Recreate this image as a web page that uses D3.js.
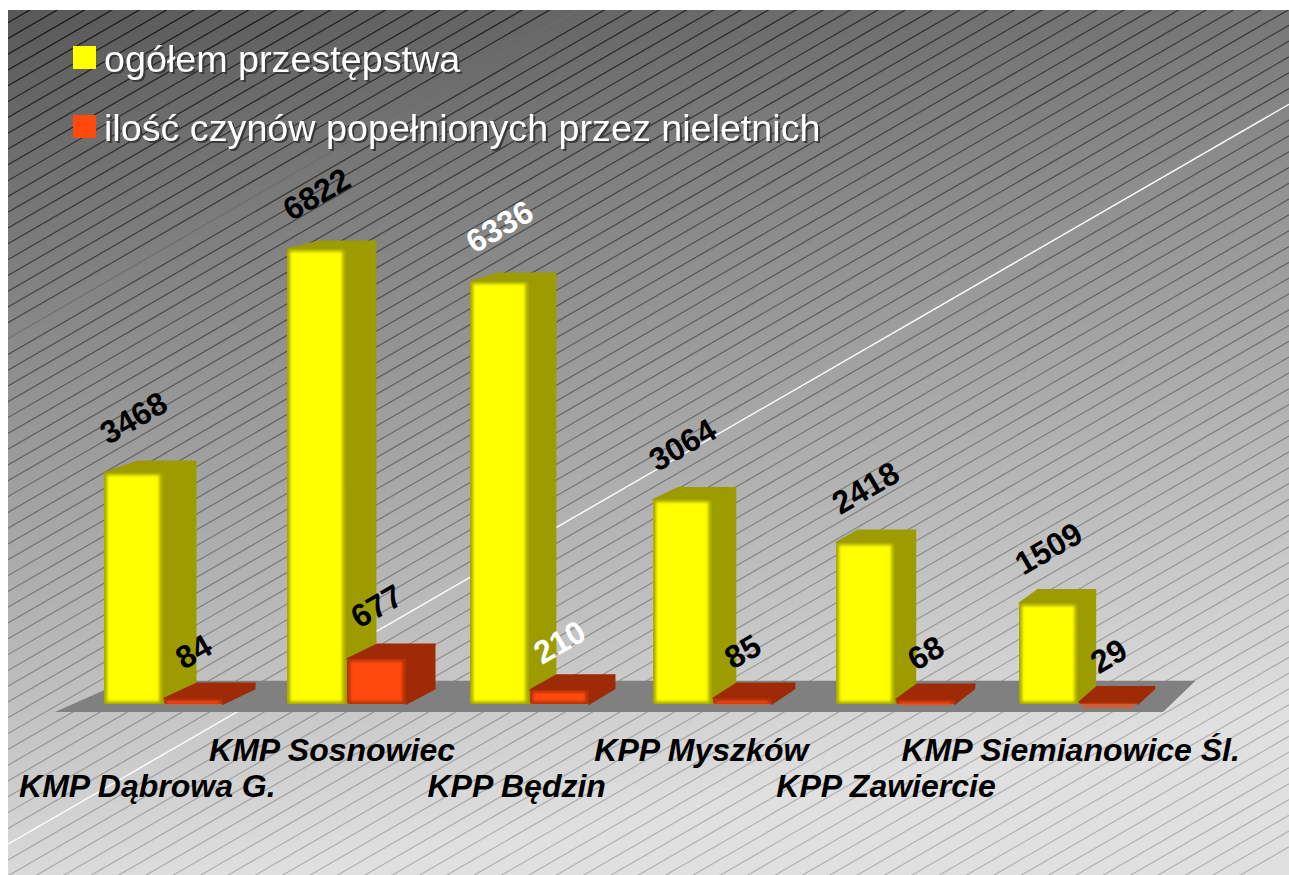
<!DOCTYPE html>
<html>
<head>
<meta charset="utf-8">
<script src="https://cdnjs.cloudflare.com/ajax/libs/d3/7.8.5/d3.min.js"></script>
<style>
body { margin: 0; background: #fff; }
svg { display: block; }
text { font-family: "Liberation Sans", Arial, sans-serif; }
</style>
</head>
<body>
<script>
// crime counts per police unit, pseudo 3d bars

let categories = ['KMP Dąbrowa G.', 'KMP Sosnowiec', 'KPP Będzin', 'KPP Myszków', 'KPP Zawiercie', 'KMP Siemianowice Śl.'];
let seriesNames = ['ogółem przestępstwa', 'ilość czynów popełnionych przez nieletnich'];
let totalCrimes = [3468, 6822, 6336, 3064, 2418, 1509];
let juvenileActs = [84, 677, 210, 85, 68, 29];

let w = 1289;
let h = 875;
let plot = { left: 8, top: 10 };
let whiteLabels = [6336, 210];

let svg = d3.select('body').append('svg').attr('width', w).attr('height', h);
let defs = svg.append('defs');

function linGrad(id, x1, y1, x2, y2, from, to) {
    let g = defs.append('linearGradient').attr('id', id)
        .attr('gradientUnits', 'userSpaceOnUse')
        .attr('x1', x1).attr('y1', y1).attr('x2', x2).attr('y2', y2);
    g.append('stop').attr('offset', 0).attr('stop-color', from);
    g.append('stop').attr('offset', 1).attr('stop-color', to);
}

linGrad('bg', 8, 10, 151, 896, '#585858', '#e0e0e0');
linGrad('stripe', 8, 10, 151, 896, '#111111', '#b2b2b2');
defs.append('filter').attr('id', 'soft').attr('x', '-20%').attr('y', '-20%').attr('width', '140%').attr('height', '140%')
    .append('feGaussianBlur').attr('stdDeviation', 1.5);
defs.append('clipPath').attr('id', 'plot-clip').append('rect')
    .attr('x', plot.left).attr('y', plot.top).attr('width', w - plot.left).attr('height', h - plot.top);

// background
let bg = svg.append('g').attr('clip-path', 'url(#plot-clip)');
bg.append('rect').attr('x', plot.left).attr('y', plot.top)
    .attr('width', w - plot.left).attr('height', h - plot.top).attr('fill', 'url(#bg)');

let slope = 0.5776;
let stripeStep = 15.8;
let stripeStart = 654.6;
let whiteStripe = 12;
let faintStripe = -20;
bg.selectAll('line.stripe')
    .data(d3.range(-42, 60))
    .enter()
    .append('line')
    .attr('class', 'stripe')
    .attr('x1', plot.left)
    .attr('y1', d => stripeStart + d * stripeStep)
    .attr('x2', w)
    .attr('y2', d => stripeStart + d * stripeStep - (w - plot.left) * slope)
    .attr('stroke', d => d == whiteStripe ? '#fff' : d == faintStripe ? '#6e6e6e' : 'url(#stripe)')
    .attr('stroke-width', d => d == whiteStripe ? 1.4 : 1.2);

// scales
let baseline = 704;
let y = d3.scaleLinear().domain([0, 6822]).range([baseline, 249]);
let x0 = d3.scaleBand().domain(categories).range([104, 1138]).paddingInner(0.35);
let x1 = d3.scaleBand().domain(seriesNames).range([0, x0.bandwidth()]).paddingInner(0.02);
let labelX = d3.scaleBand().domain(categories).range([55, 1163]);

// vanishing point of the fake perspective
let vp = [2120, -205];
let depth = 0.0168;
function project(px, py, k) {
    return [px + k * (vp[0] - px), py + k * (vp[1] - py)];
}
let poly = pts => pts.map(p => p.join(',')).join(' ');

// floor
let floorY = 712;
let floorK = 0.034;
svg.append('polygon')
    .attr('points', poly([
        [labelX.range()[0], floorY],
        [labelX.range()[1], floorY],
        project(labelX.range()[1], floorY, floorK),
        project(labelX.range()[0], floorY, floorK)
    ]))
    .attr('fill', '#808080');

let palette = [
    { face: '#ffff00', edge: '#a8a800', side: '#9c9c00' },
    { face: '#ff4a0c', edge: '#b03008', side: '#9e2a06' }
];

let bars = [];
categories.forEach((c, i) => {
    bars.push({ cat: c, s: 0, value: totalCrimes[i] });
    bars.push({ cat: c, s: 1, value: juvenileActs[i] });
});

let bar = svg.selectAll('g.bar')
    .data(bars)
    .enter()
    .append('g')
    .attr('class', 'bar');

let bx = d => x0(d.cat) + x1(seriesNames[d.s]);
let bw = x1.bandwidth();

// top and side
bar.append('polygon')
    .attr('points', d => {
        let l = bx(d), r = l + bw, t = y(d.value);
        return poly([[l, t], project(l, t, depth), project(r, t, depth), [r, t]]);
    })
    .attr('fill', d => palette[d.s].side)
    .attr('stroke', d => palette[d.s].side)
    .attr('stroke-width', 1.5)
    .attr('stroke-linejoin', 'round');
bar.append('polygon')
    .attr('points', d => {
        let r = bx(d) + bw, t = y(d.value);
        return poly([[r, t], project(r, t, depth), project(r, baseline, depth), [r, baseline]]);
    })
    .attr('fill', d => palette[d.s].side)
    .attr('stroke', d => palette[d.s].side)
    .attr('stroke-width', 1.5)
    .attr('stroke-linejoin', 'round');

// front with soft bevel
bar.append('rect')
    .attr('x', bx)
    .attr('y', d => y(d.value))
    .attr('width', bw)
    .attr('height', d => baseline - y(d.value))
    .attr('rx', 2.5)
    .attr('fill', d => palette[d.s].edge);
bar.append('rect')
    .attr('x', d => bx(d) + 3)
    .attr('y', d => y(d.value) + 2.5)
    .attr('width', bw - 6.5)
    .attr('height', d => Math.max(baseline - y(d.value) - 5, 3))
    .attr('fill', d => palette[d.s].face)
    .attr('filter', 'url(#soft)');

// value labels, tilted along the stripes
function labelGap(d) {
    return d.s == 0 ? 55 : 46 + d.value * 0.01;
}
svg.selectAll('text.value')
    .data(bars)
    .enter()
    .append('text')
    .attr('class', 'value')
    .text(d => d.value)
    .attr('transform', d => `translate(${bx(d) + bw / 2},${y(d.value) - labelGap(d)}) rotate(-30)`)
    .attr('text-anchor', 'middle')
    .attr('dy', '.35em')
    .attr('font-size', '32px')
    .attr('font-weight', 'bold')
    .attr('fill', d => whiteLabels.includes(d.value) ? '#fff' : '#000');

// category axis, staggered on two rows
let axis = svg.append('g')
    .attr('transform', `translate(0,${floorY})`)
    .call(d3.axisBottom(labelX).tickSize(0));
axis.select('.domain').remove();
axis.selectAll('text')
    .attr('y', (d, i) => i % 2 ? 49 : 85)
    .attr('dy', 0)
    .attr('fill', '#000')
    .attr('font-size', '32px')
    .attr('font-weight', 'bold')
    .attr('font-style', 'italic')
    .attr('font-family', '"Liberation Sans", Arial, sans-serif');

// legend
let legend = svg.selectAll('g.legend')
    .data(seriesNames)
    .enter()
    .append('g')
    .attr('class', 'legend')
    .attr('transform', (d, i) => `translate(73,${46 + i * 69})`);
legend.append('rect')
    .attr('width', 23)
    .attr('height', 23)
    .attr('fill', (d, i) => palette[i].face);
legend.append('text')
    .text(d => d)
    .attr('x', 31)
    .attr('y', 26)
    .attr('font-size', '37.7px')
    .attr('fill', '#fff')
    .style('filter', 'drop-shadow(2px 2px 0 #3a3a3a)');
</script>
</body>
</html>
